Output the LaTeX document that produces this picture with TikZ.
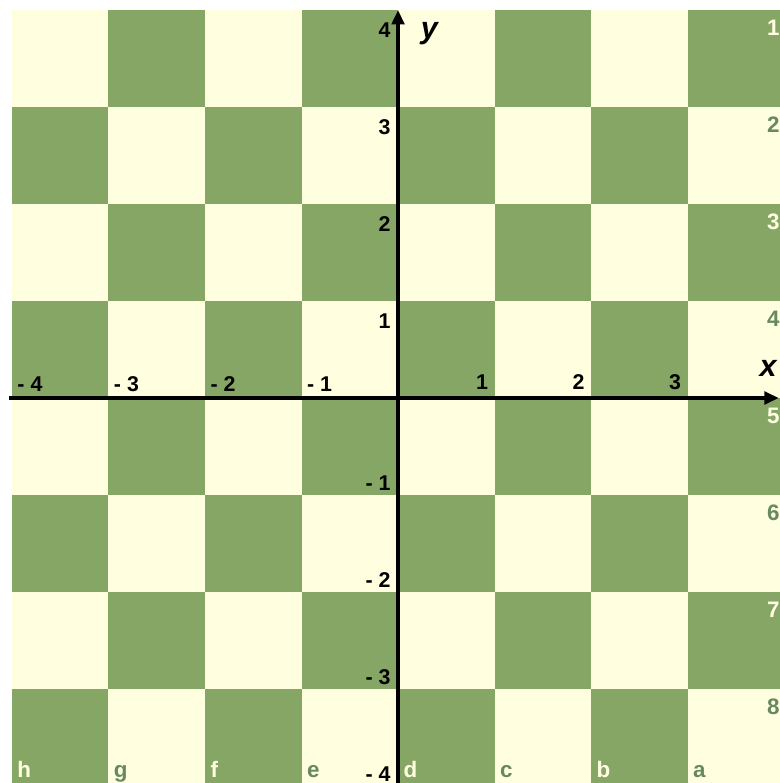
\documentclass[tikz,border=0pt]{standalone}
\usepackage{fontspec}
\setmainfont{Liberation Sans}
\usetikzlibrary{arrows.meta}

\definecolor{boardgreen}{RGB}{134,166,101}
\definecolor{boardcream}{RGB}{255,255,224}
\definecolor{labelgreen}{RGB}{104,136,98}

\begin{document}
\begin{tikzpicture}[
    x=1cm, y=1.005cm,
    axis/.style={-{Triangle[length=1.5mm, width=1.3mm]}, line width=1.3pt},
    tick/.style={font=\fontsize{6.3}{7}\selectfont\bfseries, inner sep=0pt},
    boardlabel/.style={font=\fontsize{6.6}{7}\selectfont\bfseries, inner sep=0pt},
    axislabel/.style={font=\fontsize{9}{10}\selectfont\bfseries\itshape, inner sep=0pt}
]

% Frame
\useasboundingbox (-4.124,-3.969) rectangle (3.948,4.103);
\fill[white] (-4.124,-3.969) rectangle (3.948,4.103);

% Board squares
\foreach \i in {0,...,7} {
  \foreach \j in {0,...,7} {
    \pgfmathtruncatemacro{\sqpar}{mod(\i+\j,2)}
    \ifnum\sqpar=0
      \fill[boardcream] (-4+\i,4-\j) rectangle (-3+\i,3-\j);
    \else
      \fill[boardgreen] (-4+\i,4-\j) rectangle (-3+\i,3-\j);
    \fi
  }
}

% Ranks (right column)
\foreach \r in {1,...,8} {
  \pgfmathtruncatemacro{\odd}{mod(\r,2)}
  \ifnum\odd=1 \def\lcol{boardcream}\else \def\lcol{labelgreen}\fi
  \node[boardlabel, text=\lcol, anchor=north east, xshift=-0.4mm, yshift=-1.0mm]
    (rank\r) at (4,5-\r) {\r};
}

% Files (bottom row)
\foreach \f [count=\i from 0] in {h,g,f,e,d,c,b,a} {
  \pgfmathtruncatemacro{\odd}{mod(\i,2)}
  \ifnum\odd=0 \def\lcol{boardcream}\else \def\lcol{labelgreen}\fi
  \node[boardlabel, text=\lcol, anchor=base west, xshift=0.5mm, yshift=0.85mm]
    (file\f) at (-4+\i,-4) {\f};
}

% Axes
\coordinate (xstart) at (-4.03,0);
\coordinate (xend) at (3.945,0);
\coordinate (ystart) at (0,-4.05);
\coordinate (yend) at (0,4.0);
\draw[axis] (xstart) -- (xend);
\draw[axis] (ystart) -- (yend);
\node[axislabel, anchor=south east, xshift=-0.15mm, yshift=2.15mm] (xlab) at (xend) {x};
\node[axislabel, anchor=north west, xshift=2.3mm, yshift=-1.2mm] (ylab) at (yend) {y};

% Tick labels
\foreach \k in {1,2,3}
  \node[tick, anchor=south east, xshift=-0.6mm, yshift=0.8mm] (xp\k) at (\k,0) {\k};
\foreach \k in {1,2,3,4}
  \node[tick, anchor=south west, xshift=0.5mm, yshift=0.6mm] (xn\k) at (-\k,0) {- \k};
\foreach \k in {1,2,3,4}
  \node[tick, anchor=north east, xshift=-0.7mm, yshift=-1.25mm] (yp\k) at (0,\k) {\k};
\foreach \k in {1,2,3,4}
  \node[tick, anchor=south east, xshift=-0.7mm, yshift=0.4mm] (yn\k) at (0,-\k) {- \k};

\end{tikzpicture}
\end{document}
